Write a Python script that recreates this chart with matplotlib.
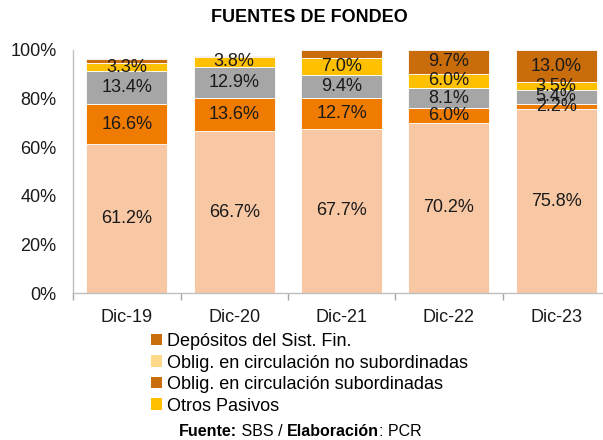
import matplotlib.pyplot as plt
from matplotlib.patches import Patch
from matplotlib.ticker import FixedLocator, PercentFormatter

plt.rcParams['font.family'] = ['Liberation Sans', 'DejaVu Sans']

years = ["Dic-19", "Dic-20", "Dic-21", "Dic-22", "Dic-23"]
# stacked from bottom to top
obligaciones = [61.2, 66.7, 67.7, 70.2, 75.8]
adeudos = [16.6, 13.6, 12.7, 6.0, 2.2]
patrimonio = [13.4, 12.9, 9.4, 8.1, 5.4]
otros_pasivos = [3.3, 3.8, 7.0, 6.0, 3.5]
depositos = [1.7, 0.6, 3.2, 9.7, 13.0]

series = [
    (obligaciones, "#F8C8A5", True),
    (adeudos, "#EF7B00", True),
    (patrimonio, "#A6A6A6", True),
    (otros_pasivos, "#FFC000", True),
    (depositos, "#C96C0B", False),
]

legend_labels = ["Depósitos del Sist. Fin.",
                 "Oblig. en circulación no subordinadas",
                 "Oblig. en circulación subordinadas",
                 "Otros Pasivos"]
legend_colors = ["#C96C0B", "#FFD98A", "#C96C0B", "#FFC000"]

fig = plt.figure(figsize=(6.03, 4.40), dpi=100)
ax = fig.add_axes([73.3 / 603, 1 - 293.3 / 440, 536.5 / 603, 243.3 / 440])

x = list(range(len(years)))
bottom = [0.0] * len(years)
for vals, color, always in series:
    bars = ax.bar(x, vals, width=0.755, bottom=bottom, color=color,
                  edgecolor="white", linewidth=0.6)
    for i, v in enumerate(vals):
        if always or v >= 5:
            ax.text(x[i], bottom[i] + v / 2, f"{v:.1f}%", ha="center",
                    va="center", fontsize=13, color="#1a1a1a")
    bottom = [b + v for b, v in zip(bottom, vals)]

ax.set_xlim(-0.5, len(years) - 0.5)
ax.set_ylim(0, 100)
ax.set_xticks(x)
ax.set_xticklabels(years)
ax.xaxis.set_minor_locator(FixedLocator([i - 0.5 for i in range(len(years) + 1)]))
ax.yaxis.set_major_locator(FixedLocator([0, 20, 40, 60, 80, 100]))
ax.yaxis.set_major_formatter(PercentFormatter(decimals=0))
ax.tick_params(axis="x", which="major", length=0, pad=11, labelsize=13, colors="#1a1a1a")
ax.tick_params(axis="x", which="minor", length=5, color="#A6A6A6", width=1)
ax.tick_params(axis="y", length=0, pad=12, labelsize=13, colors="#1a1a1a")
for s in ["top", "right"]:
    ax.spines[s].set_visible(False)
for s in ["left", "bottom"]:
    ax.spines[s].set_color("#BFBFBF")
    ax.spines[s].set_linewidth(1)

fig.text(309 / 603, 1 - 18 / 440, "FUENTES DE FONDEO", ha="center", va="center",
         fontsize=13, fontweight="bold")

handles = [Patch(facecolor=c, edgecolor="none") for c in legend_colors]
fig.legend(handles, legend_labels, loc="upper left", bbox_to_anchor=(151 / 603, 1 - 333 / 440),
           frameon=False, fontsize=13, handlelength=0.6, handleheight=0.6,
           handletextpad=0.3, labelspacing=0.25, borderpad=0, borderaxespad=0)

t1 = fig.text(179 / 603, 1 - 431 / 440, "Fuente:", fontsize=11.5, fontweight="bold",
              va="center", ha="left")
t2 = ax.annotate(" SBS / ", xy=(1, 0), xycoords=t1, va="bottom", ha="left", fontsize=11.5,
                 annotation_clip=False)
t3 = ax.annotate("Elaboración", xy=(1, 0), xycoords=t2, va="bottom", ha="left",
                 fontsize=11.5, fontweight="bold", annotation_clip=False)
ax.annotate(": PCR", xy=(1, 0), xycoords=t3, va="bottom", ha="left", fontsize=11.5,
            annotation_clip=False)

fig.savefig("out.png", dpi=100)
